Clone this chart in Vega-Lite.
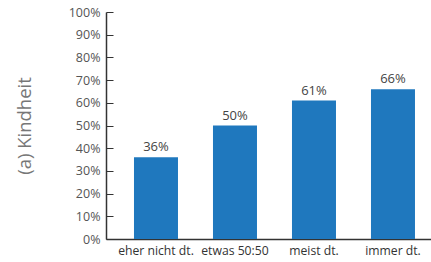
{
  "$schema": "https://vega.github.io/schema/vega-lite/v6.json",
  "width": 325,
  "height": 227,
  "autosize": "none",
  "padding": {"left": 106, "top": 12, "right": 0, "bottom": 23},
  "background": "white",
  "config": {"view": {"stroke": null}, "font": "Open Sans"},
  "data": {"values": [
    {"cat": "eher nicht dt.", "value": 0.36},
    {"cat": "etwas 50:50", "value": 0.50},
    {"cat": "meist dt.", "value": 0.61},
    {"cat": "immer dt.", "value": 0.66}
  ]},
  "encoding": {
    "x": {"field": "cat", "type": "nominal", "sort": null,
      "scale": {"paddingInner": 0.443, "paddingOuter": 0.2785, "align": 0.636},
      "axis": {"title": null, "labelAngle": 0, "ticks": false, "domainColor": "#333", "domainWidth": 1.5,
        "labelColor": "#333", "labelFontSize": 12.2, "labelPadding": 5, "grid": false, "labelOverlap": false}},
    "y": {"field": "value", "type": "quantitative",
      "scale": {"domain": [0, 1]},
      "axis": {"format": ".0%", "values": [0,0.1,0.2,0.3,0.4,0.5,0.6,0.7,0.8,0.9,1],
        "labelOverlap": false, "labelFlush": false,
        "grid": false, "tickSize": -7, "tickColor": "#333", "domainColor": "#333", "domainWidth": 1.5,
        "labelColor": "#555", "labelFontSize": 12.5, "labelPadding": 13,
        "title": "(a) Kindheit", "titleFontSize": 18.5, "titleFontWeight": "normal", "titleColor": "#777",
        "titleX": -82, "titleY": 113.5, "titleAngle": -90, "titleAlign": "center", "titleBaseline": "middle"}}
  },
  "layer": [
    {"mark": {"type": "bar", "color": "#1f78be"}},
    {"mark": {"type": "text", "baseline": "bottom", "dy": -3, "fontSize": 13, "color": "#444"},
     "encoding": {"text": {"field": "value", "type": "quantitative", "format": ".0%"}}}
  ]
}
